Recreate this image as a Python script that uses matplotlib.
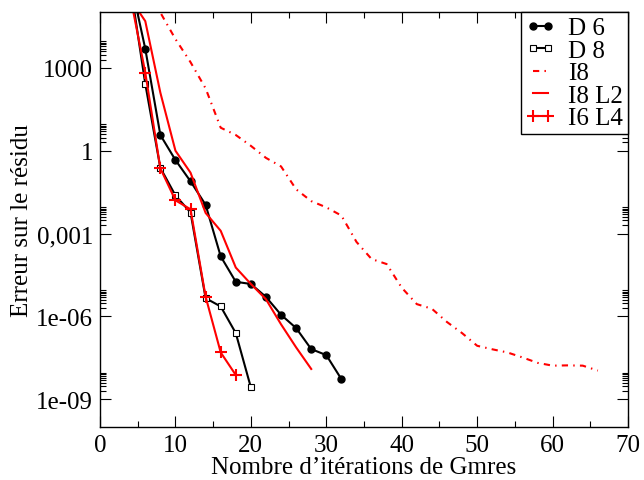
import numpy as np
import matplotlib
matplotlib.use('Agg')
import matplotlib.pyplot as plt
from matplotlib.ticker import FixedLocator, FixedFormatter, MultipleLocator

plt.rcParams['font.family'] = ['Liberation Serif', 'DejaVu Serif']
plt.rcParams['font.size'] = 18

# residual error vs GMRES iterations
d6_x = [4, 6, 8, 10, 12, 14, 16, 18, 20, 22, 24, 26, 28, 30, 32]
d6_y = [1.6e6, 4.9e3, 3.7, 0.46, 0.078, 0.011, 1.5e-4, 1.8e-5, 1.5e-5,
        5.1e-6, 1.15e-6, 3.8e-7, 6.6e-8, 4.0e-8, 5.4e-9]

d8_x = [4, 6, 8, 10, 12, 14, 16, 18, 20]
d8_y = [1.1e6, 263, 0.24, 0.024, 5.8e-3, 4.6e-6, 2.3e-6, 2.5e-7, 2.7e-9]

i8_x = [6, 8, 10, 12, 14, 16, 18, 20, 22, 24, 26, 28, 30, 32, 34, 36,
        38, 40, 42, 44, 46, 48, 50, 52, 54, 56, 58, 60, 62, 64, 66]
i8_y = [6.3e5, 1.0e5, 1.1e4, 1.6e3, 1.8e2, 6.8, 3.7, 1.5, 0.55, 0.27,
        0.04, 0.015, 8.9e-3, 4.5e-3, 5e-4, 1.2e-4, 7.9e-5, 1.1e-5, 2.8e-6,
        1.9e-6, 6.3e-7, 2.5e-7, 8.7e-8, 6.5e-8, 5e-8, 3.3e-8, 2.1e-8,
        1.66e-8, 1.7e-8, 1.66e-8, 1.1e-8]

i8l2_x = [4, 6, 8, 10, 12, 14, 16, 18, 20, 22, 24, 26, 28]
i8l2_y = [3.2e5, 4.9e4, 126, 1.0, 0.16, 5.6e-3, 1.26e-3, 5.9e-5, 1.5e-5,
          4.2e-6, 5.2e-7, 7.6e-8, 1.26e-8]

i6l4_x = [4, 6, 8, 10, 12, 14, 16, 18]
i6l4_y = [4e5, 676, 0.23, 0.016, 7.6e-3, 5.2e-6, 5e-8, 7.6e-9]

ytick_vals = [1e-9, 1e-6, 1e-3, 1, 1e3]
ytick_labels = ['1e-09', '1e-06', '0,001', '1', '1000']

fig = plt.figure(figsize=(6.44, 4.81), dpi=100)
ax = fig.add_axes([0.1553, 0.1102, 0.8199, 0.8628])

ax.plot(d6_x, d6_y, color='black', lw=1.5, marker='o', ms=5, label='D 6')
ax.plot(d8_x, d8_y, color='black', lw=1.5, marker='s', ms=4, mfc='white',
        mec='black', mew=0.8, label='D 8')
ax.plot(i8_x, i8_y, color='red', lw=1.5, linestyle=(0, (3, 2.5, 0.7, 2.5)), label='I8')
ax.plot(i8l2_x, i8l2_y, color='red', lw=1.5, label='I8 L2')
ax.plot(i6l4_x, i6l4_y, color='red', lw=1.5, marker='+', ms=8, mew=1.5, label='I6 L4')

ax.set_yscale('log')
ax.set_xlim(0, 70)
ax.set_ylim(1e-10, 1.05e5)

ax.xaxis.set_major_locator(MultipleLocator(10))
ax.xaxis.set_minor_locator(MultipleLocator(5))
ax.yaxis.set_major_locator(FixedLocator(ytick_vals))
ax.yaxis.set_major_formatter(FixedFormatter(ytick_labels))
minors = [k * v for v in ytick_vals for k in range(2, 10)]
ax.yaxis.set_minor_locator(FixedLocator(minors))
ax.yaxis.set_minor_formatter(FixedFormatter([''] * len(minors)))

ax.tick_params(which='both', direction='in', top=True, right=True, width=0.8, labelsize=18)
ax.tick_params(which='major', length=8, pad=5)
ax.tick_params(which='minor', length=4)
for s in ax.spines.values():
    s.set_linewidth(1.0)

ax.set_xlabel('Nombre d\u2019itérations de Gmres', labelpad=0)
ax.set_ylabel('Erreur sur le résidu', labelpad=2)

leg = ax.legend(loc='upper right', borderaxespad=0, numpoints=2, fancybox=False,
                edgecolor='black', framealpha=1, handlelength=1.2, handletextpad=0.5,
                labelspacing=0.0, borderpad=0.2, fontsize=18)
leg.get_frame().set_linewidth(1.0)

fig.savefig('out.png', dpi=100)
